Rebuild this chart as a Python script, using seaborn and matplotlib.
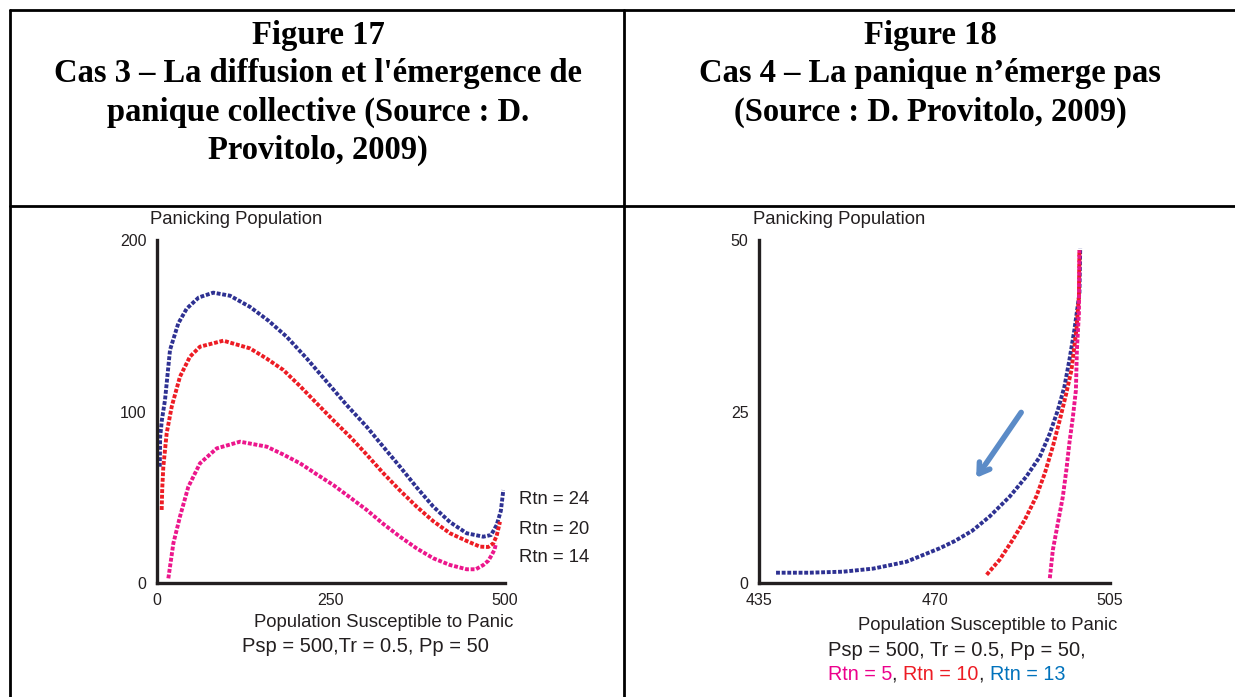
import matplotlib
matplotlib.use("Agg")
import matplotlib.pyplot as plt
from matplotlib.lines import Line2D
import pandas as pd
import seaborn as sns

W, H = 1235, 697

# Figure 17 (Cas 3) : values
psp_24 = [4, 4.5, 7, 11.5, 18.7, 30.6, 42.7, 60, 80.9, 105, 133.6, 160, 186.3, 215, 243.8, 272, 301.3, 325, 349.1, 373, 397, 421, 445, 468.9, 480, 488, 494, 497.6]
pp_24 = [67.8, 85, 95, 106.7, 135.9, 151.4, 160, 166.5, 169.3, 167.5, 161, 153, 143.6, 131, 117.4, 104, 91.1, 79.5, 67.8, 55.8, 44.5, 35.5, 29, 27, 28, 33.8, 42, 54.2]

psp_20 = [6.7, 7.5, 9.1, 13.9, 21.1, 33, 47.4, 61.8, 95.3, 133.6, 157, 181.5, 205, 229.4, 253, 277.3, 301, 325.2, 349, 373.1, 397, 421, 445, 464, 476, 483.2, 488, 492.8]
pp_20 = [42.6, 55, 67.8, 87.3, 102.8, 120.3, 132, 137.8, 141.3, 136.8, 131, 124.2, 115, 104.8, 95, 85.3, 75, 64, 54, 44.5, 36, 29, 24.5, 21.2, 21, 23.1, 27.5, 35.7]

psp_14 = [16.3, 23.5, 33, 45, 61.8, 85.8, 119.3, 157.6, 181, 205.5, 229, 253.4, 277, 301.3, 325, 349.1, 373, 397, 421, 445, 458, 468.9, 476, 480.9, 485, 487.1]
pp_14 = [2.7, 23.1, 38.7, 56.1, 69.8, 78.5, 82.4, 79.5, 75, 69.8, 63.5, 57.1, 50, 42.6, 34.5, 27, 20.2, 14.4, 10.5, 8, 8, 10.5, 13, 16.3, 19.5, 23.1]

# Figure 18 (Cas 4) : values
psp_13 = [438.4, 445, 451.8, 457.8, 464.4, 471, 474, 477.5, 481, 485, 488.3, 491, 493, 494.6, 495.9, 496.9, 497.9, 498.9, 499.06]
pp_13 = [1.5, 1.5, 1.65, 2.1, 3.1, 5.05, 6.1, 7.6, 9.7, 12.6, 15.5, 18.4, 21.8, 25.2, 28.6, 32.5, 36.9, 42.2, 48.8]

psp_10 = [480.4, 483, 485.6, 488, 490.3, 492, 493.6, 495, 496.3, 497.3, 498.3, 498.8, 498.9]
pp_10 = [1.2, 3.4, 6.3, 9.2, 12.6, 16, 19.9, 23.8, 27.7, 31, 36.9, 41.7, 48.5]

psp_5 = [493, 493.6, 494.6, 495.6, 496.3, 496.9, 497.6, 498.2, 498.4, 498.8, 498.9]
pp_5 = [0.7, 4.8, 8.7, 12.6, 16.5, 20.4, 24.2, 28.1, 34, 39.3, 48.5]

left_ticks_x = [0, 125, 250, 375, 500]
left_ticklabels_x = ["0", "", "250", "", "500"]
left_ticks_y = [0, 50, 100, 150, 200]
left_ticklabels_y = ["0", "", "100", "", "200"]
right_ticks_x = [435, 452.5, 470, 487.5, 505]
right_ticklabels_x = ["435", "", "470", "", "505"]
right_ticks_y = [0, 12.5, 25, 37.5, 50]
right_ticklabels_y = ["0", "", "25", "", "50"]

title_left = ["Figure 17", "Cas 3 \u2013 La diffusion et l'\u00e9mergence de",
              "panique collective (Source : D.", "Provitolo, 2009)"]
title_right = ["Figure 18", "Cas 4 \u2013 La panique n\u2019\u00e9merge pas",
               "(Source : D. Provitolo, 2009)"]

BLUE = "#2E3192"
RED = "#ED1C24"
PINK = "#EC168C"
INK = "#231F20"

sns.set_style("white")
plt.rcParams["font.family"] = ["Liberation Sans", "DejaVu Sans"]


def fx(x):
    return x / W


def fy(y):
    return 1 - y / H


fig = plt.figure(figsize=(W / 100, H / 100), dpi=100)

# table frame
for (x0, y0, x1, y1) in [(10, 10, W, 10), (10, 206, W, 206), (10, 10, 10, H), (624, 10, 624, H)]:
    fig.add_artist(Line2D([fx(x0), fx(x1)], [fy(y0), fy(y1)], color="black", lw=2.0))

serif = ["Liberation Serif", "DejaVu Serif"]
for i, line in enumerate(title_left):
    fig.text(fx(318), fy(44 + 38.3 * i), line, ha="center", va="baseline",
             family=serif, weight="bold", fontsize=23.5, color="black")
for i, line in enumerate(title_right):
    fig.text(fx(930), fy(44 + 38.3 * i), line, ha="center", va="baseline",
             family=serif, weight="bold", fontsize=23.5, color="black")

ax1 = fig.add_axes([fx(157), 114 / H, 348 / W, 343 / H])
ax2 = fig.add_axes([fx(759), 114 / H, 351 / W, 343 / H])

dash = (1.0, 0.45)
curves_left = [(psp_24, pp_24, BLUE), (psp_20, pp_20, RED), (psp_14, pp_14, PINK)]
for xs, ys, c in curves_left:
    d = pd.DataFrame({"psp": xs, "pp": ys})
    sns.lineplot(data=d, x="psp", y="pp", ax=ax1, color=c, lw=2.8, sort=False,
                 linestyle=(0, dash))

curves_right = [(psp_13, pp_13, BLUE), (psp_10, pp_10, RED), (psp_5, pp_5, PINK)]
for xs, ys, c in curves_right:
    d = pd.DataFrame({"psp": xs, "pp": ys})
    sns.lineplot(data=d, x="psp", y="pp", ax=ax2, color=c, lw=2.8, sort=False,
                 linestyle=(0, dash))

for ax, xl, yl, xt, xtl, yt, ytl in [
        (ax1, (0, 500), (0, 200), left_ticks_x, left_ticklabels_x, left_ticks_y, left_ticklabels_y),
        (ax2, (435, 505), (0, 50), right_ticks_x, right_ticklabels_x, right_ticks_y, right_ticklabels_y)]:
    ax.set_xlim(*xl)
    ax.set_ylim(*yl)
    ax.set_xticks(xt)
    ax.set_xticklabels(xtl)
    ax.set_yticks(yt)
    ax.set_yticklabels(ytl)
    ax.set_xlabel("")
    ax.set_ylabel("")
    ax.set_facecolor("none")
    for s in ["top", "right"]:
        ax.spines[s].set_visible(False)
    for s in ["left", "bottom"]:
        ax.spines[s].set_linewidth(2.4)
        ax.spines[s].set_color(INK)
    ax.tick_params(direction="out", length=6, width=2.4, color=INK,
                   labelsize=11.5, labelcolor=INK, pad=1.5)

# arrow in figure 18
ax2.annotate("", xy=(478, 15), xytext=(487.6, 25.2),
             arrowprops=dict(arrowstyle="->,head_length=0.7,head_width=0.45",
                             color="#5B8BC7", lw=4))

LAB = 13.3
# axis texts, left panel
fig.text(fx(150), fy(224), "Panicking Population", fontsize=LAB, color=INK, va="baseline")
fig.text(fx(513), fy(627), "Population Susceptible to Panic", fontsize=LAB, color=INK,
         ha="right", va="baseline")
fig.text(fx(365), fy(652), "Psp = 500,Tr = 0.5, Pp = 50", fontsize=14.5, color=INK,
         ha="center", va="baseline")
for lab, yy in [("Rtn = 24", 500), ("Rtn = 20", 529), ("Rtn = 14", 558)]:
    fig.text(fx(519), fy(yy), lab, fontsize=LAB, color=INK, va="center")

# axis texts, right panel
fig.text(fx(753), fy(224), "Panicking Population", fontsize=LAB, color=INK, va="baseline")
fig.text(fx(1117), fy(630), "Population Susceptible to Panic", fontsize=LAB, color=INK,
         ha="right", va="baseline")
fig.text(fx(828), fy(656), "Psp = 500, Tr = 0.5, Pp = 50,", fontsize=14.5, color=INK,
         va="baseline")

parts = [("Rtn = 5", "#EC008C"), (", ", INK), ("Rtn = 10", RED), (", ", INK), ("Rtn = 13", "#0072BC")]
prev = fig.text(fx(828), fy(680), parts[0][0], fontsize=14.2, color=parts[0][1], va="baseline")
for s, c in parts[1:]:
    prev = ax2.annotate(s, xy=(1, 0), xycoords=prev, va="bottom", ha="left",
                        fontsize=14.2, color=c, annotation_clip=False)

fig.savefig("out.png", dpi=100)
